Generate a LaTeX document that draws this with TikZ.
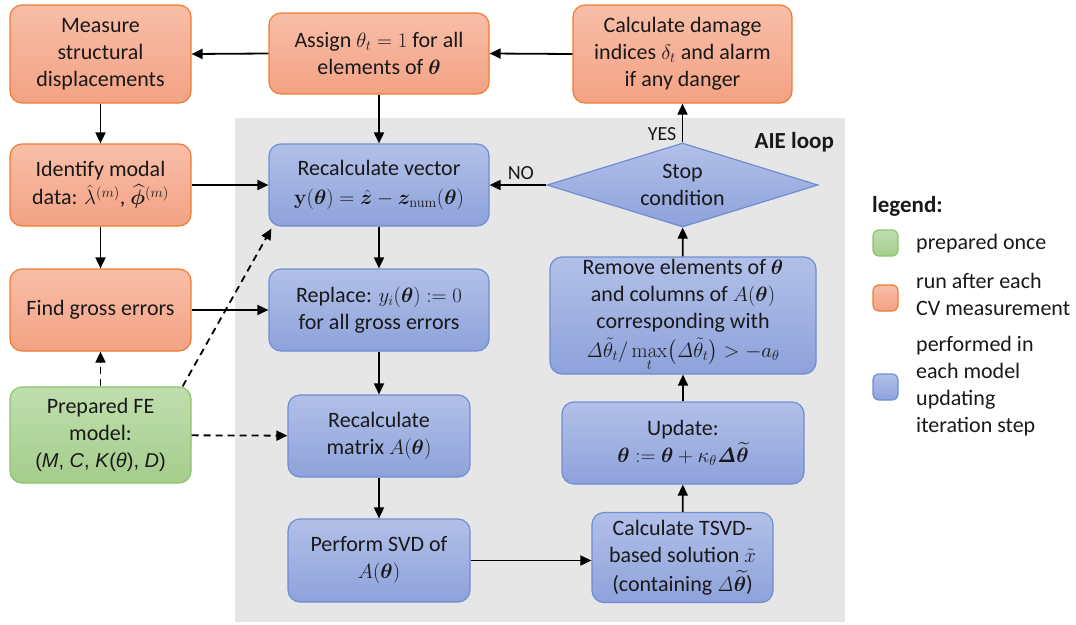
\documentclass[tikz,border=0pt]{standalone}
\usepackage{amsmath}
\usepackage{bm}
\usepackage[no-math]{fontspec}
\setmainfont{Carlito}
\newfontfamily\arialf{Liberation Sans}
\usetikzlibrary{shapes.geometric,arrows.meta,calc}
\definecolor{txt}{RGB}{25,25,25}
\definecolor{otop}{RGB}{249,190,168}
\definecolor{obot}{RGB}{243,162,132}
\definecolor{oborder}{RGB}{237,125,49}
\definecolor{btop}{RGB}{178,192,232}
\definecolor{bbot}{RGB}{142,162,219}
\definecolor{bborder}{RGB}{110,142,210}
\definecolor{gtop}{RGB}{192,222,174}
\definecolor{gbot}{RGB}{164,205,140}
\definecolor{gborder}{RGB}{140,195,110}
\definecolor{graybg}{RGB}{231,230,230}
\tikzset{
  base/.style={rounded corners=12pt, inner sep=0pt, align=center, text=txt,
    font=\fontsize{22}{27}\selectfont, line width=1.2pt},
  obox/.style={base, draw=oborder, top color=otop, bottom color=obot},
  bbox/.style={base, draw=bborder, top color=btop, bottom color=bbot},
  gbox/.style={base, draw=gborder, top color=gtop, bottom color=gbot},
  sz/.style 2 args={minimum width=#1pt, minimum height=#2pt},
  arr/.style={line width=1.8pt, draw=black, -{Triangle[length=11pt,width=10pt]}},
  darr/.style={arr, dash pattern=on 7pt off 5pt},
  lbl/.style={text=txt, font=\fontsize{20}{24}\selectfont},
  legtxt/.style={text=txt, font=\fontsize{22}{27}\selectfont, align=left, anchor=west, inner sep=0pt},
  legsq/.style={rounded corners=6pt, line width=1.2pt, minimum width=25pt, minimum height=26pt, inner sep=0pt}
}
\begin{document}
\begin{tikzpicture}[x=1pt,y=-1pt]
\useasboundingbox (0,0) rectangle (1076,624);
\fill[graybg] (235,118) rectangle (845,622);

% orange boxes
\node[obox, sz={181}{98}] (measure) at (100.5,54) {Measure\\structural\\displacements};
\node[obox, sz={220}{81}] (assign) at (379,53.5) {Assign $\theta_t = 1$ for all\\elements of $\bm{\theta}$};
\node[obox, sz={219}{98}] (damage) at (682.5,54) {Calculate damage\\indices $\delta_t$ and alarm\\if any danger};
\node[obox, sz={181}{82}] (identify) at (100.5,185) {Identify modal\\[1pt]data: $\hat{\lambda}^{(m)}$, $\widehat{\bm{\phi}}^{(m)}$};
\node[obox, sz={181}{82}] (findg) at (100.5,310) {Find gross errors};

% green box
\node[gbox, sz={181}{96}] (prepared) at (100.5,435) {Prepared FE\\model:\\{\arialf\fontsize{20}{27}\selectfont(\textit{M}, \textit{C}, \textit{K}(\textit{θ}), \textit{D})}};

% blue boxes
\node[bbox, sz={220}{82}] (recalc) at (379,185) {Recalculate vector\\[2pt]$\mathbf{y}(\bm{\theta}) = \hat{\bm{z}} - \bm{z}_{\mathrm{num}}(\bm{\theta})$};
\node[bbox, sz={220}{82}] (replace) at (379,310) {Replace: $y_i(\bm{\theta}) \mathrel{:}= 0$\\for all gross errors};
\node[bbox, sz={182}{82}] (matrix) at (379,436) {Recalculate\\matrix $A(\bm{\theta})$};
\node[bbox, sz={182}{83}] (svd) at (379,560.5) {Perform SVD of\\$A(\bm{\theta})$};
\node[bbox, sz={181}{90}] (tsvd) at (682.5,557.5) {Calculate TSVD-\\based solution $\tilde{x}$\\[2pt](containing $\mathit{\Delta}\widetilde{\bm{\theta}}$)};
\node[bbox, sz={242}{82}] (update) at (683,443) {Update:\\$\bm{\theta} \mathrel{:}= \bm{\theta} + \kappa_\theta \bm{\mathit{\Delta}}\widetilde{\bm{\theta}}$};
\node[bbox, sz={266}{117}] (remove) at (683,315.5) {Remove elements of $\bm{\theta}$\\and columns of $A(\bm{\theta})$\\corresponding with\\[2pt]$\mathit{\Delta}\tilde{\theta}_t/\max\limits_t\bigl(\mathit{\Delta}\tilde{\theta}_t\bigr) > -a_\theta$};
\node[diamond, aspect=3.23, draw=bborder, line width=1.2pt, top color=btop, bottom color=bbot,
      sz={271}{84}, inner sep=0pt, align=center, text=txt, font=\fontsize{22}{27}\selectfont] (stop) at (682.5,185) {Stop\\condition};

% labels
\node[anchor=east, text=txt, font=\fontsize{23}{27}\selectfont\bfseries, inner sep=0pt] (aie) at (834,142) {AIE loop};

% arrows
\draw[arr] (assign.west) -- (measure.east);
\draw[arr] (damage.west) -- (assign.east);
\draw[arr] (measure) -- (identify);
\draw[arr] (identify) -- (findg);
\draw[arr] (assign) -- (recalc);
\draw[arr] (identify.east) -- (recalc.west);
\draw[arr] (findg) -- (replace);
\draw[arr] (recalc) -- (replace);
\draw[arr] (replace) -- (matrix);
\draw[arr] (matrix) -- (svd);
\draw[arr] (svd.east) -- (svd.east -| tsvd.west);
\draw[arr] (tsvd) -- (update);
\draw[arr] (update) -- (remove);
\draw[arr] (remove) -- (stop);
\draw[arr] (stop.west) -- (recalc.east) node[lbl, pos=0.45, above=1pt] {NO};
\draw[arr] (stop.north) -- (damage.south) node[lbl, pos=0.22, left=2pt] {YES};
\draw[darr] (prepared) -- (findg);
\draw[darr] (prepared) -- (matrix);
\draw[darr] ([xshift=-9pt]prepared.north east) -- ([xshift=3pt,yshift=-2pt]recalc.south west);

% legend
\node[anchor=west, text=txt, font=\fontsize{23}{27}\selectfont\bfseries, inner sep=0pt] (legend) at (872,206) {legend:};
\node[legsq, draw=gborder, top color=gtop, bottom color=gbot] (lg) at (885.5,243) {};
\node[legsq, draw=oborder, top color=otop, bottom color=obot] (lo) at (885.5,298) {};
\node[legsq, draw=bborder, top color=btop, bottom color=bbot] (lb) at (885.5,387) {};
\node[legtxt] (lgt) at (916,244) {prepared once};
\node[legtxt] (lot) at (916,294.5) {run after each\\CV measurement};
\node[legtxt] (lbt) at (916,386) {performed in\\each model\\updating\\iteration step};
\end{tikzpicture}
\end{document}
